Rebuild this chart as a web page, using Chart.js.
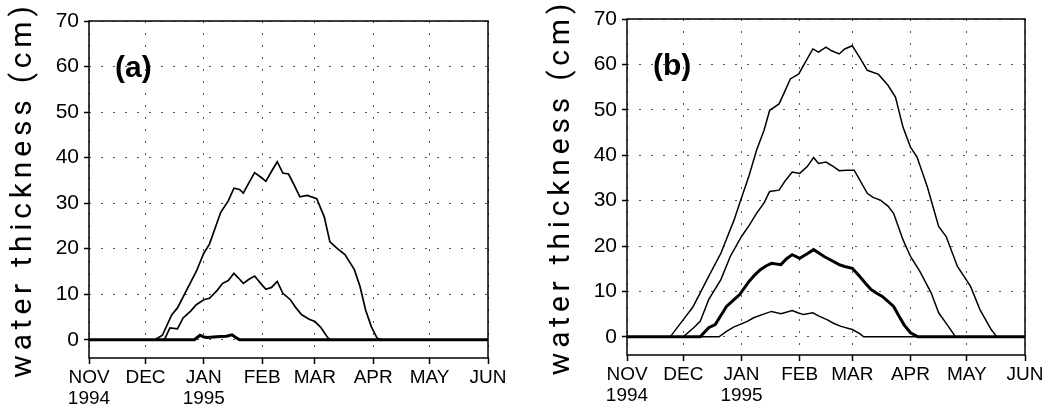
<!DOCTYPE html>
<html>
<head>
<meta charset="utf-8">
<script src="https://cdn.jsdelivr.net/npm/chart.js"></script>
<style>
  body { margin: 0; background: #fff; width: 1057px; height: 409px; overflow: hidden; position: relative; }
  canvas { position: absolute; top: 0; }
  #chartA { left: 0px; }
  #chartB { left: 538px; }
</style>
</head>
<body>
<canvas id="chartA" width="530" height="409"></canvas>
<canvas id="chartB" width="519" height="409"></canvas>
<script>
// days counted from 1 Nov 1994
var monthDays = [0, 30, 61, 92, 120, 151, 181, 212];
var monthLabels = [["NOV", "1994"], ["DEC"], ["JAN", "1995"], ["FEB"], ["MAR"], ["APR"], ["MAY"], ["JUN"]];
var yTicks = [0, 10, 20, 30, 40, 50, 60, 70];
var yTitle = "water thickness (cm)";

// panel (a)
var aHighDays = [0, 35, 39, 44, 47, 52, 57, 61, 64, 70, 74, 77, 80, 82, 85, 88, 91, 94, 97, 100, 103, 106, 109, 112, 116, 121, 125, 128, 132, 136, 141, 144, 147, 150, 153, 155, 212];
var aHighVals = [0, 0, 1, 5.5, 7, 11, 15, 19, 21, 28, 30.5, 33.3, 33, 32.2, 34.5, 36.7, 35.8, 34.8, 37, 39.1, 36.6, 36.4, 34, 31.4, 31.7, 31, 27, 21.5, 20, 18.7, 15.4, 11.7, 6.5, 2.9, 0.4, 0, 0];

var aMidDays = [0, 40, 43, 47, 50, 54, 57, 61, 64, 68, 71, 74, 77, 80, 82, 85, 88, 91, 94, 97, 100, 103, 107, 110, 113, 117, 120, 123, 127, 128, 212];
var aMidVals = [0, 0, 2.6, 2.4, 4.8, 6.3, 7.7, 8.8, 9.1, 10.8, 12.4, 13, 14.6, 13.3, 12.4, 13.3, 14, 12.5, 11.1, 11.5, 12.8, 10.2, 8.8, 7, 5.5, 4.5, 4, 2.8, 0.4, 0, 0];

var aLowDays = [0, 56, 59, 61, 63, 66, 70, 73, 76, 78, 80, 212];
var aLowVals = [0, 0, 1.0, 0.6, 0.5, 0.6, 0.7, 0.8, 1.1, 0.5, 0, 0];

// panel (b)
var bHighDays = [0, 23, 30, 35, 39, 43.5, 50, 57, 60, 65, 69, 73, 76, 81, 84, 87, 91.5, 95, 99, 102, 106, 109, 113, 116, 120, 124, 128, 134, 139, 143, 147, 151, 154.5, 160, 166, 170, 176, 183, 188, 194, 197, 212];
var bHighVals = [0, 0, 3.8, 6.5, 9.7, 13.3, 18.4, 25.7, 29.4, 35.5, 41.1, 45.5, 49.9, 51.3, 54, 56.8, 57.9, 60.5, 63.4, 62.7, 63.8, 63, 62.3, 63.4, 64.1, 61.5, 58.7, 57.8, 55.4, 52.8, 46.2, 41.8, 39.6, 33, 24.3, 22.1, 15.5, 11.1, 6, 1.6, 0, 0];

var bMidDays = [0, 30, 35.5, 39, 43.5, 50, 55, 61, 65, 69, 73, 76, 81, 84, 88, 92, 96, 99.4, 102, 106, 110, 113, 117, 121, 124, 128, 131, 135, 139, 142, 147, 151, 156, 162, 166, 170.5, 175, 212];
var bMidVals = [0, 0, 2, 3.4, 8.2, 12.6, 17.7, 22.1, 24.5, 27.2, 29.5, 32, 32.3, 34.2, 36.3, 36, 37.5, 39.5, 38.2, 38.5, 37.5, 36.6, 36.7, 36.7, 34.5, 31.6, 30.7, 30.1, 28.8, 27.2, 21.4, 17.7, 14.4, 9.7, 5.3, 2.7, 0, 0];

var bThickDays = [0, 39, 43.5, 47, 50, 53, 57, 60, 65, 68, 71, 74, 77, 82, 85, 88, 92, 96, 99.4, 102, 105, 109, 113, 116, 120, 124, 127, 130, 133, 136, 139, 142, 145, 147.5, 151, 155, 212];
var bThickVals = [0, 0, 2, 2.7, 4.7, 6.7, 8.2, 9.3, 12.2, 13.6, 14.8, 15.6, 16.2, 15.9, 17.2, 18.1, 17.3, 18.3, 19.2, 18.5, 17.7, 16.8, 15.9, 15.5, 15.1, 13.3, 11.8, 10.4, 9.6, 8.9, 7.8, 6.7, 4.5, 2.7, 0.9, 0, 0];

var bLowDays = [0, 49, 53, 57, 60, 64, 67.5, 72, 77, 82, 88, 91, 94, 99, 102, 106.5, 110, 114, 120, 124, 126, 212];
var bLowVals = [0, 0, 1.2, 2.2, 2.7, 3.4, 4.2, 4.9, 5.6, 5.1, 5.8, 5.3, 4.9, 5.3, 4.6, 3.8, 3, 2.3, 1.6, 0.7, 0, 0];


// linear scale whose title is drawn with wide letter spacing
class SpacedLinearScale extends Chart.LinearScale {
  drawTitle() {
    var ctx = this.ctx;
    ctx.save();
    ctx.letterSpacing = "4.8px";
    super.drawTitle();
    ctx.restore();
  }
}
SpacedLinearScale.id = "spacedLinear";
SpacedLinearScale.defaults = Chart.LinearScale.defaults;
Chart.register(SpacedLinearScale);


function toPoints(days, vals) {
  var pts = [];
  for (var i = 0; i < days.length; i++) {
    pts.push({ x: days[i], y: vals[i] });
  }
  return pts;
}

function line(days, vals, width) {
  return {
    data: toPoints(days, vals),
    borderColor: "#000",
    borderWidth: width,
    pointRadius: 0,
    tension: 0,
    fill: false
  };
}

// box around the plot + panel letter
var framePlugin = {
  id: "frame",
  afterDatasetsDraw: function (chart, args, opts) {
    var a = chart.chartArea;
    var ctx = chart.ctx;
    ctx.save();
    ctx.strokeStyle = "#000";
    ctx.lineWidth = 1.5;
    ctx.strokeRect(a.left, a.top, a.right - a.left, a.bottom - a.top);
    ctx.fillStyle = "#000";
    ctx.font = "bold 30px 'Liberation Sans', Arial, sans-serif";
    ctx.textAlign = "left";
    ctx.textBaseline = "middle";
    ctx.fillText(opts.tag, a.left + 26, a.top + 48);
    ctx.restore();
  }
};

function getChart(id, datasets, tag, geo) {
  var ctx = document.getElementById(id).getContext("2d");
  var chart = new Chart(ctx, {
    type: "line",
    data: { datasets: datasets },
    plugins: [framePlugin],
    options: {
      responsive: false,
      animation: false,
      devicePixelRatio: 1,
      layout: { padding: { left: 0, top: geo.top, right: geo.right, bottom: 0 } },
      plugins: {
        legend: { display: false },
        tooltip: { enabled: false },
        frame: { tag: tag }
      },
      scales: {
        x: {
          type: "linear",
          min: 0,
          max: 212,
          afterBuildTicks: function (axis) {
            axis.ticks = monthDays.map(function (d) { return { value: d }; });
          },
          afterFit: function (axis) { axis.height = geo.xHeight; },
          ticks: {
            autoSkip: false,
            maxRotation: 0,
            padding: 3,
            color: "#000",
            font: { family: "'Liberation Sans Narrow', 'Liberation Sans', sans-serif", size: 19, lineHeight: 1.1 },
            callback: function (v, i) { return monthLabels[i]; }
          },
          grid: { color: "#555", lineWidth: 1, tickLength: 6, tickColor: "#000", tickWidth: 1.5 },
          border: { display: false, dash: [2, 10] }
        },
        y: {
          type: "spacedLinear",
          min: -4,
          max: 70,
          afterBuildTicks: function (axis) {
            axis.ticks = yTicks.map(function (v) { return { value: v }; });
          },
          afterFit: function (axis) { axis.width = geo.yWidth; },
          title: {
            display: true,
            text: yTitle,
            color: "#000",
            padding: { top: 5, bottom: 0 },
            font: { family: "Roboto, 'Liberation Sans', sans-serif", size: 30, weight: 400, lineHeight: 1.2 }
          },
          ticks: {
            padding: 5,
            color: "#000",
            font: { family: "'Liberation Sans', Arial, sans-serif", size: 21 }
          },
          grid: { color: "#555", lineWidth: 1, tickLength: 5, tickColor: "#000", tickWidth: 1.5 },
          border: { display: false, dash: [2, 10] }
        }
      }
    }
  });
  return chart;
}

function init() {
  getChart("chartA", [
    line(aHighDays, aHighVals, 1.7),
    line(aMidDays, aMidVals, 1.7),
    line(aLowDays, aLowVals, 3)
  ], "(a)", { top: 21, right: 42, xHeight: 51, yWidth: 89 });

  getChart("chartB", [
    line(bHighDays, bHighVals, 1.5),
    line(bMidDays, bMidVals, 1.5),
    line(bLowDays, bLowVals, 1.5),
    line(bThickDays, bThickVals, 3)
  ], "(b)", { top: 19, right: 32, xHeight: 54, yWidth: 89 });
}

init();
</script>
</body>
</html>
